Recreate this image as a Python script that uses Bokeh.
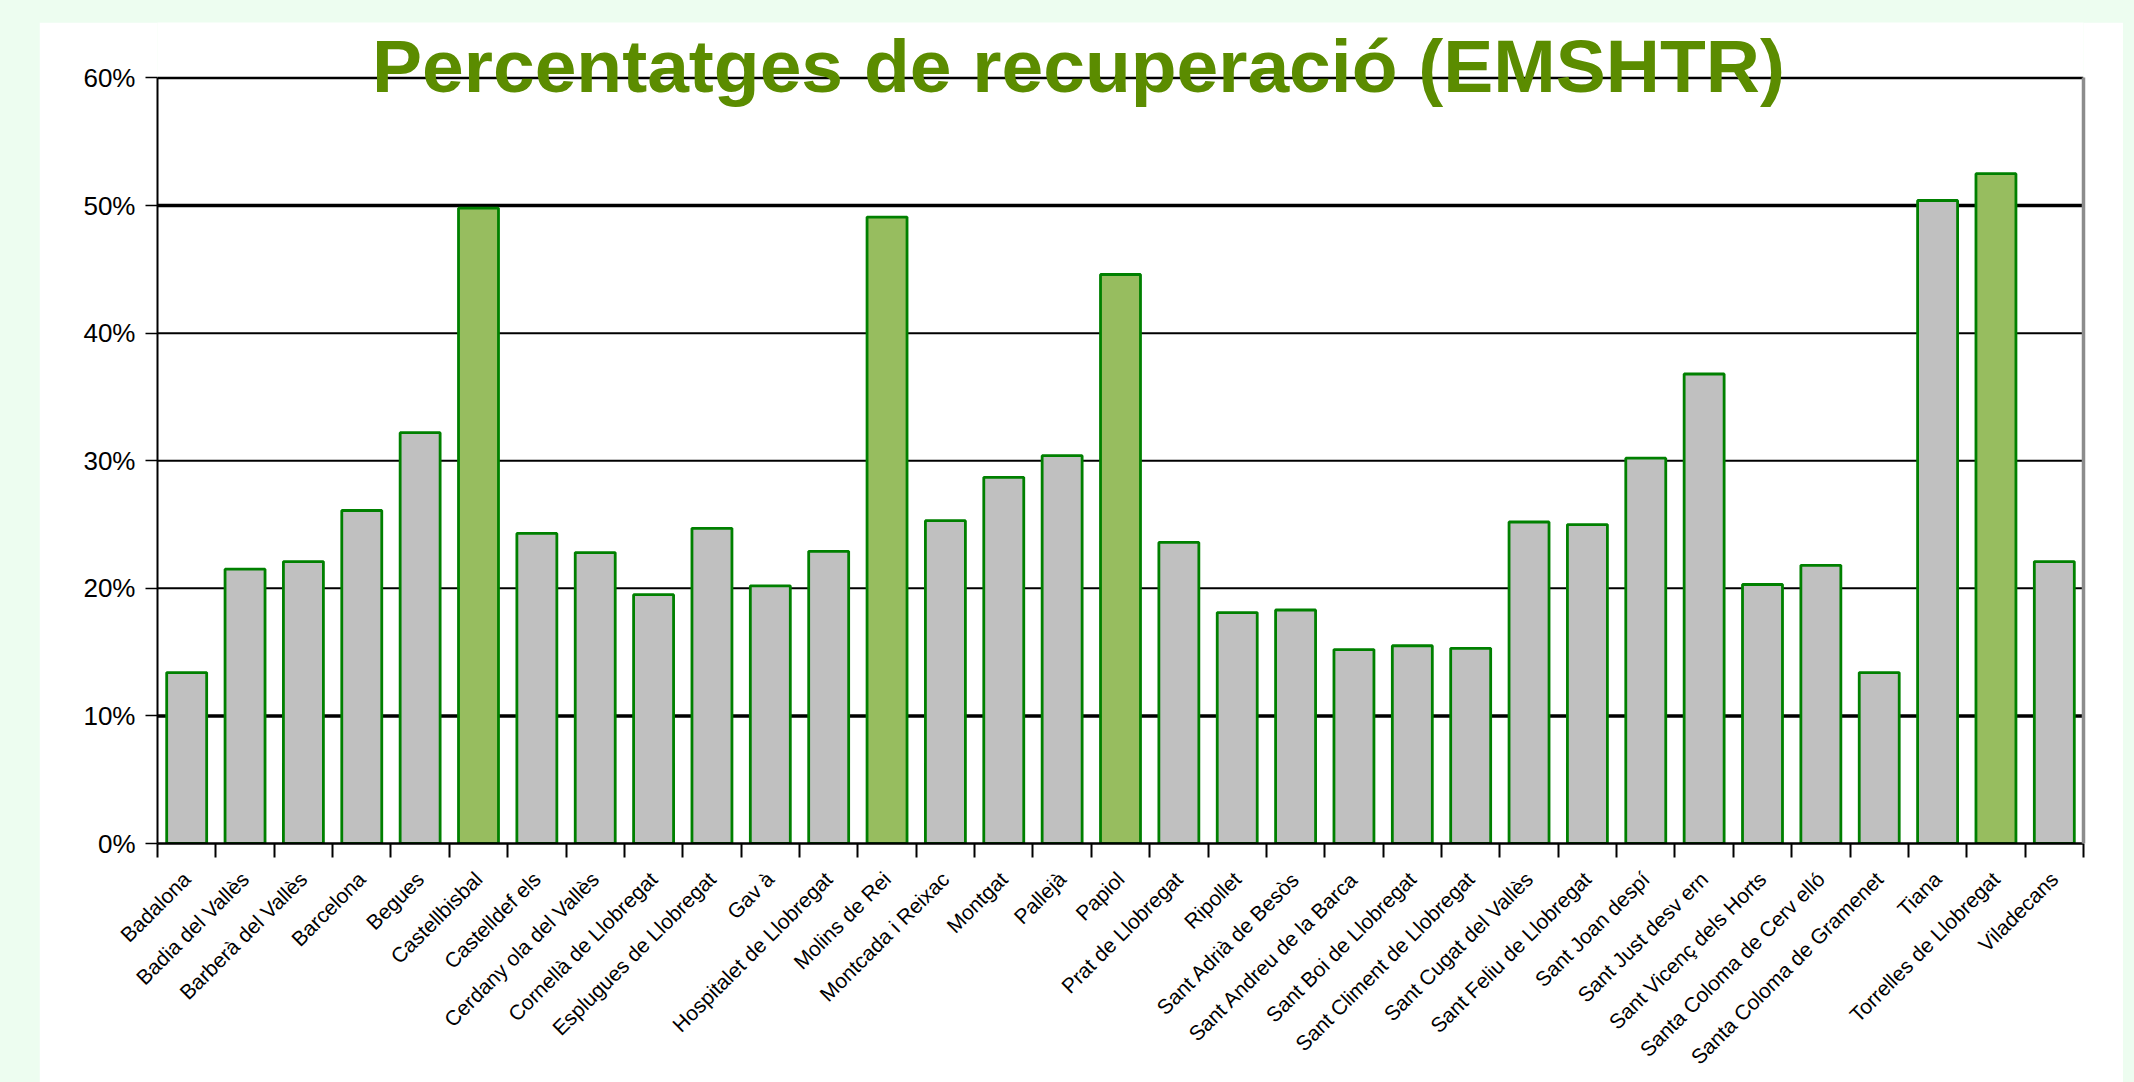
import math
from bokeh.plotting import figure
from bokeh.models import (Range1d, LinearAxis, FixedTicker, NumeralTickFormatter, Span, Label,
                          ColumnDataSource)
from bokeh.layouts import column
from bokeh.embed import file_html
from bokeh.resources import INLINE

# ---------------- data ----------------
municipis = [
    "Badalona", "Badia del Vallès", "Barberà del Vallès", "Barcelona", "Begues",
    "Castellbisbal", "Castelldef els", "Cerdany ola del Vallès", "Cornellà de Llobregat",
    "Esplugues de Llobregat", "Gav à", "Hospitalet de Llobregat", "Molins de Rei",
    "Montcada i Reixac", "Montgat", "Pallejà", "Papiol", "Prat de Llobregat", "Ripollet",
    "Sant Adrià de Besòs", "Sant Andreu de la Barca", "Sant Boi de Llobregat",
    "Sant Climent de Llobregat", "Sant Cugat del Vallès", "Sant Feliu de Llobregat",
    "Sant Joan despí", "Sant Just desv ern", "Sant Vicenç dels Horts",
    "Santa Coloma de Cerv elló", "Santa Coloma de Gramenet", "Tiana",
    "Torrelles de Llobregat", "Viladecans",
]
percentatges = [
    0.134, 0.215, 0.221, 0.261, 0.322, 0.498, 0.243, 0.228, 0.195, 0.247, 0.202, 0.229,
    0.491, 0.253, 0.287, 0.304, 0.446, 0.236, 0.181, 0.183, 0.152, 0.155, 0.153, 0.252,
    0.250, 0.302, 0.368, 0.203, 0.218, 0.134, 0.504, 0.525, 0.221,
]
destacats = ["Castellbisbal", "Molins de Rei", "Papiol", "Torrelles de Llobregat"]
y_ticks = [0.0, 0.1, 0.2, 0.3, 0.4, 0.5, 0.6]
grid_widths = [0, 3.5, 2, 2, 2, 3.5, 2.5]
title_text = "Percentatges de recuperació (EMSHTR)"

GREY = "#C0C0C0"
LIGHT_GREEN = "#97BD5F"
EDGE = "#008000"
MINT = "#EDFDF0"
TITLE_GREEN = "#5B8C00"
FONT = "Liberation Sans"

n = len(municipis)
centres = [i + 0.5 for i in range(n)]          # category slots on a 0..n axis
limits = list(range(n + 1))                     # slot boundaries (tick marks)
colors = [LIGHT_GREEN if m in destacats else GREY for m in municipis]
src = ColumnDataSource(dict(x=centres, top=percentatges, color=colors, name=municipis))

Y_MAX = 0.6
Y_TOP = 0.6435   # headroom above 60% where the title sits

p = figure(
    x_range=Range1d(0, n),
    y_range=Range1d(0, Y_TOP),
    width=2084, height=1060,
    min_border_left=118, min_border_right=40, min_border_top=0, min_border_bottom=239,
    x_axis_location=None, y_axis_location=None,
    output_backend="svg", toolbar_location=None, tools="",
)
p.background_fill_color = "white"
p.border_fill_color = "white"
p.outline_line_color = None
p.xgrid.visible = False
p.ygrid.visible = False

for v, w in zip(y_ticks, grid_widths):
    if w > 0:
        p.add_layout(Span(location=v, dimension="width", line_color="black",
                          line_width=w, level="underlay"))

p.vbar(x="x", top="top", width=0.685, source=src, fill_color="color",
       line_color=EDGE, line_width=2.8)

# y axis
yaxis = LinearAxis(ticker=FixedTicker(ticks=y_ticks), bounds=(0, Y_MAX),
                   formatter=NumeralTickFormatter(format="0%"))
yaxis.axis_line_color = "black"
yaxis.axis_line_width = 2
yaxis.major_tick_line_color = "black"
yaxis.major_tick_line_width = 1.5
yaxis.major_tick_in = 0
yaxis.major_tick_out = 12
yaxis.minor_tick_line_color = None
yaxis.major_label_standoff = 10
yaxis.major_label_text_font = FONT
yaxis.major_label_text_font_size = "26px"
yaxis.major_label_text_color = "black"
p.add_layout(yaxis, "left")

# grey right-hand frame edge
raxis = LinearAxis(ticker=FixedTicker(ticks=[]), bounds=(0, Y_MAX))
raxis.axis_line_color = "#8C8C8C"
raxis.axis_line_width = 3.5
raxis.major_tick_line_color = None
raxis.minor_tick_line_color = None
raxis.major_label_text_font_size = "0px"
raxis.major_label_standoff = 0
p.add_layout(raxis, "right")

# x axis: names at slot centres, tick marks at slot boundaries
xaxis = LinearAxis(ticker=FixedTicker(ticks=centres, minor_ticks=limits))
xaxis.major_label_overrides = {c: m for c, m in zip(centres, municipis)}
xaxis.axis_line_color = "black"
xaxis.axis_line_width = 2.5
xaxis.major_tick_line_color = None
xaxis.major_tick_in = 0
xaxis.major_tick_out = 14
xaxis.minor_tick_line_color = "black"
xaxis.minor_tick_line_width = 2
xaxis.minor_tick_in = 0
xaxis.minor_tick_out = 14
xaxis.major_label_orientation = math.pi / 4
xaxis.major_label_standoff = 18
xaxis.major_label_text_font = FONT
xaxis.major_label_text_font_size = "21px"
xaxis.major_label_text_color = "black"
p.add_layout(xaxis, "below")

# title overlapping the top of the frame
p.add_layout(Label(x=15.78, y=0.6096, text=title_text, text_align="center",
                   text_baseline="alphabetic", text_font=FONT, text_font_size="75px",
                   text_font_style="bold", text_color=TITLE_GREEN))

page = column(p, styles={"background-color": MINT, "padding": "22px 11px 0px 39px"})

open("out.html", "w").write(file_html(page, INLINE))
